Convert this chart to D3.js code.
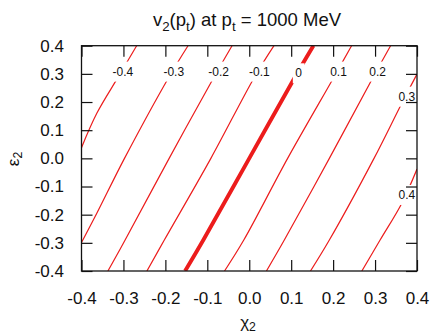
<!DOCTYPE html>
<html><head><meta charset="utf-8">
<script src="https://cdn.jsdelivr.net/npm/d3@7"></script>
<style>
body{margin:0;background:#fff}
svg{display:block}
text{font-family:"Liberation Sans",Arial,Helvetica,sans-serif;fill:#111}
</style>
</head><body>
<svg id="c" width="431" height="336"></svg>
<script>
// ---- data ----
const levels      = [-0.4, -0.3, -0.2, -0.1, 0, 0.1, 0.2, 0.3, 0.4];
const levelLabels = ["-0.4", "-0.3", "-0.2", "-0.1", "0", "0.1", "0.2", "0.3", "0.4"];
// contour polylines as [chi2, eps2] pairs
const contourM04 = [[-0.4, 0.038], [-0.3635, 0.160], [-0.312, 0.29], [-0.2685, 0.4]];
const contourM03 = [[-0.4, -0.299], [-0.3635, -0.195], [-0.2975, 0], [-0.191, 0.29], [-0.146, 0.4]];
const contourM02 = [[-0.337, -0.4], [-0.296, -0.29], [-0.191, 0], [-0.0836, 0.29], [-0.041, 0.4]];
const contourM01 = [[-0.244, -0.4], [-0.2025, -0.29], [-0.0915, 0], [0.013, 0.29], [0.059, 0.4]];
const contour00  = [[-0.153, -0.4], [-0.1095, -0.29], [0, 0], [0.1095, 0.29], [0.153, 0.4]];
const contourP01 = [[-0.059, -0.4], [-0.013, -0.29], [0.0915, 0], [0.2025, 0.29], [0.244, 0.4]];
const contourP02 = [[0.041, -0.4], [0.0836, -0.29], [0.191, 0], [0.296, 0.29], [0.337, 0.4]];
const contourP03 = [[0.146, -0.4], [0.191, -0.29], [0.2975, 0], [0.3635, 0.195], [0.4, 0.299]];
const contourP04 = [[0.2685, -0.4], [0.312, -0.29], [0.3635, -0.160], [0.4, -0.038]];
const contours = [contourM04, contourM03, contourM02, contourM01, contour00,
                  contourP01, contourP02, contourP03, contourP04];
// eps2 value at which each level's label sits on its line
const labelEps = [0.308, 0.308, 0.308, 0.308, 0.302, 0.308, 0.308, 0.219, -0.130];
const xTicks = [-0.4, -0.3, -0.2, -0.1, 0.0, 0.1, 0.2, 0.3, 0.4];
const yTicks = [-0.4, -0.3, -0.2, -0.1, 0.0, 0.1, 0.2, 0.3, 0.4];
const xTickLabels = ["-0.4", "-0.3", "-0.2", "-0.1", "0.0", "0.1", "0.2", "0.3", "0.4"];
const yTickLabels = ["-0.4", "-0.3", "-0.2", "-0.1", "0.0", "0.1", "0.2", "0.3", "0.4"];

// ---- layout ----
const L = 81.5, R = 417, T = 45.7, B = 271;
const red = "#ec1c1c";
const svg = d3.select("#c");
const x = d3.scaleLinear().domain([-0.4, 0.4]).range([L, R]);
const y = d3.scaleLinear().domain([-0.4, 0.4]).range([B, T]);

const defs = svg.append("defs");
defs.append("clipPath").attr("id", "plotclip")
  .append("rect").attr("x", L).attr("y", T).attr("width", R - L).attr("height", B - T);
const mask = defs.append("mask").attr("id", "gaps").attr("maskUnits", "userSpaceOnUse")
  .attr("x", 0).attr("y", 0).attr("width", 431).attr("height", 336);
mask.append("rect").attr("x", 0).attr("y", 0).attr("width", 431).attr("height", 336).attr("fill", "#fff");

// contours
const line = d3.line().x(d => x(d[0])).y(d => y(d[1])).curve(d3.curveCatmullRom.alpha(0.5));
const cg = svg.append("g").attr("clip-path", "url(#plotclip)")
  .append("g").attr("mask", "url(#gaps)");
contours.forEach((c, i) => {
  cg.append("path").attr("d", line(c)).attr("fill", "none").attr("stroke", red)
    .attr("stroke-width", levels[i] === 0 ? 3.9 : 1.2).attr("stroke-linecap", "butt");
});

// label position: interpolate chi on the line at the label's eps
function chiAt(c, e) {
  const s = c.slice().sort((a, b) => a[1] - b[1]);
  for (let k = 0; k < s.length - 1; k++) {
    if (e >= s[k][1] && e <= s[k + 1][1]) {
      const t = (e - s[k][1]) / (s[k + 1][1] - s[k][1]);
      return s[k][0] + t * (s[k + 1][0] - s[k][0]);
    }
  }
  return s[s.length - 1][0];
}
const lg = svg.append("g");
levels.forEach((lv, i) => {
  const px = x(chiAt(contours[i], labelEps[i])) + 1.5;
  const py = y(labelEps[i]);
  const t = lg.append("text").attr("x", px).attr("y", py).attr("dy", "0.35em")
    .attr("text-anchor", "middle").attr("font-size", 12).text(levelLabels[i]);
  const w = t.node().getComputedTextLength();
  mask.append("rect").attr("x", px - w / 2 - 2.5).attr("y", py - 10)
    .attr("width", w + 5).attr("height", 20).attr("fill", "#000");
});

// axes (inward ticks on all four sides)
function styleAxis(g) {
  g.select(".domain").remove();
  g.selectAll(".tick line").attr("stroke", "#111").attr("stroke-width", 1.2);
  g.selectAll("text").attr("font-family", "'Liberation Sans',Arial,sans-serif")
    .attr("font-size", 17).attr("fill", "#111");
}
svg.append("g").attr("transform", `translate(0,${B})`)
  .call(d3.axisBottom(x).tickValues(xTicks).tickFormat((d, i) => xTickLabels[i])
    .tickSizeInner(-11).tickSizeOuter(0).tickPadding(21))
  .call(styleAxis);
svg.append("g").attr("transform", `translate(0,${T})`)
  .call(d3.axisTop(x).tickValues(xTicks).tickFormat("").tickSizeInner(-11).tickSizeOuter(0))
  .call(styleAxis);
svg.append("g").attr("transform", `translate(${L},0)`)
  .call(d3.axisLeft(y).tickValues(yTicks).tickFormat((d, i) => yTickLabels[i])
    .tickSizeInner(-11).tickSizeOuter(0).tickPadding(17.5))
  .call(styleAxis);
svg.append("g").attr("transform", `translate(${R},0)`)
  .call(d3.axisRight(y).tickValues(yTicks).tickFormat("").tickSizeInner(-11).tickSizeOuter(0))
  .call(styleAxis);

// border
svg.append("rect").attr("x", L).attr("y", T).attr("width", R - L).attr("height", B - T)
  .attr("fill", "none").attr("stroke", "#111").attr("stroke-width", 1.3);

// text with subscripts
function richText(g, parts, size, shift) {
  parts.forEach(p => {
    const ts = g.append("tspan").text(p.t);
    if (p.sub) ts.attr("font-size", size * 0.72).attr("dy", size * shift);
    if (p.after) ts.attr("dy", -size * shift);
  });
}
const title = svg.append("text").attr("x", 247).attr("y", 26).attr("text-anchor", "middle")
  .attr("font-size", 18.5);
richText(title, [{t: "v"}, {t: "2", sub: true}, {t: "(p", after: true}, {t: "t", sub: true},
  {t: ") at p", after: true}, {t: "t", sub: true}, {t: " = 1000 MeV", after: true}], 18.5, 0.27);

const xl = svg.append("text").attr("x", 248).attr("y", 328).attr("text-anchor", "middle")
  .attr("font-size", 17);
richText(xl, [{t: "χ"}, {t: "2", sub: true}], 17, 0.2);

const yl = svg.append("text").attr("transform", "translate(19,159) rotate(-90)")
  .attr("text-anchor", "middle").attr("font-size", 17);
richText(yl, [{t: "ε"}, {t: "2", sub: true}], 17, 0.2);
</script>
</body></html>
